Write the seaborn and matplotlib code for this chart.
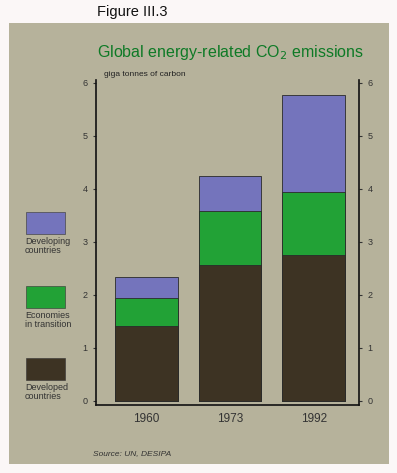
import numpy as np
import matplotlib
matplotlib.use("Agg")
import matplotlib.pyplot as plt
import pandas as pd
import seaborn as sns
from matplotlib.patches import Rectangle

years = ["1960", "1973", "1992"]
developed = [1.41, 2.56, 2.74]
transition = [0.53, 1.01, 1.19]
developing = [0.39, 0.67, 1.83]

series = ["Developing\ncountries", "Economies\nin transition", "Developed\ncountries"]
colors = ["#7474bc", "#22a236", "#3d3323"]
panel = "#b6b29b"

sns.set_style("white")
plt.rcParams["font.family"] = ["Liberation Sans", "DejaVu Sans"]

df = pd.DataFrame({"year": years, "developed": developed,
                   "transition": transition, "developing": developing})
df["mid"] = df["developed"] + df["transition"]
df["total"] = df["mid"] + df["developing"]

W, H = 397, 473
fig = plt.figure(figsize=(W / 100, H / 100), dpi=100)
fig.patch.set_facecolor("#fbf7f7")
fig.patches.append(Rectangle((9 / W, 1 - 464 / H), (389 - 9) / W, (464 - 23) / H,
                             transform=fig.transFigure, facecolor=panel,
                             edgecolor="none", zorder=-10))

ax = fig.add_axes([96 / W, 1 - 405 / H, (359 - 96) / W, (405 - 80) / H])
ax.set_facecolor(panel)

for col, c in zip(["total", "mid", "developed"], colors):
    sns.barplot(data=df, x="year", y=col, color=c, width=0.75, saturation=1,
                edgecolor="#2a2a2a", linewidth=0.6, ax=ax)

ax.set_xlim(-0.6, 2.54)
ax.set_ylim(-0.08, 6.05)
ax.set_yticks(range(7))
ax.set_xlabel("")
ax.set_ylabel("")
ax.tick_params(axis="y", labelsize=6.5, colors="#333333", length=2,
               left=True, right=True, labelleft=True, labelright=True, pad=4)
ax.tick_params(axis="x", labelsize=8.5, colors="#333333", length=0, pad=6)
for s in ["left", "right", "bottom"]:
    ax.spines[s].set_color("#111111")
    ax.spines[s].set_linewidth(1.2)
ax.spines["top"].set_visible(False)

fig.text(97 / W, 1 - 16 / H, "Figure III.3", fontsize=10.5, color="#111111")
fig.text(230 / W, 1 - 52 / H, "Global energy-related CO$_2$ emissions",
         fontsize=11.5, color="#0e7a26", ha="center", va="center")
fig.text(104 / W, 1 - 75 / H, "giga tonnes of carbon", fontsize=6, color="#222222",
         va="center")
fig.text(93 / W, 1 - 454 / H, "Source: UN, DESIPA", fontsize=6, style="italic",
         color="#333333", va="center")

# legend on the left
leg_y = [212, 286, 358]
for name, c, y in zip(series, colors, leg_y):
    fig.patches.append(Rectangle((26 / W, 1 - (y + 22) / H), 39 / W, 22 / H,
                                 transform=fig.transFigure, facecolor=c,
                                 edgecolor="#333333", linewidth=0.4, zorder=2))
    fig.text(25 / W, 1 - (y + 25) / H, name, fontsize=6.5, color="#333333",
             va="top", linespacing=1.0)

fig.savefig("out.png", dpi=100)
